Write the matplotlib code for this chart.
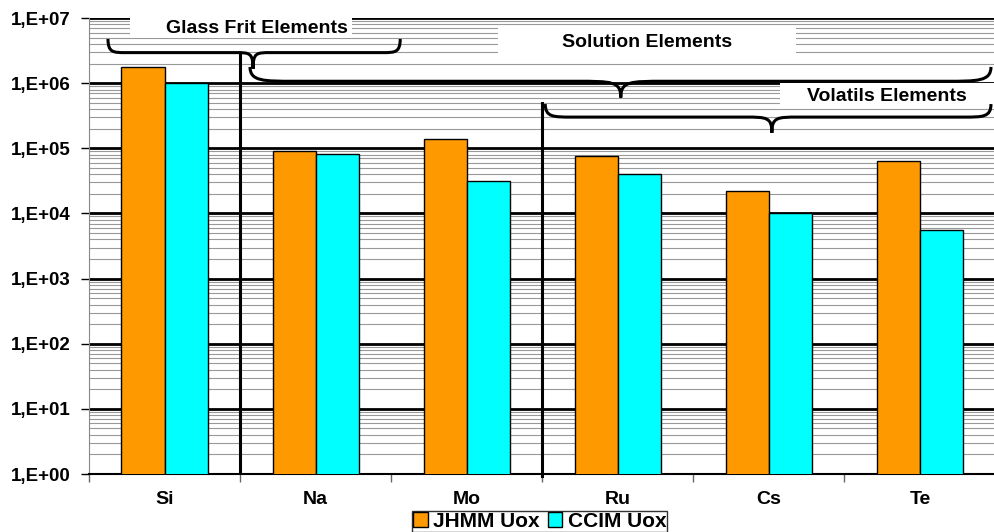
import numpy as np
import matplotlib.pyplot as plt
from matplotlib.path import Path
from matplotlib.patches import PathPatch, Rectangle
from matplotlib.ticker import FixedLocator, LogLocator, NullFormatter, FuncFormatter

plt.rcParams['font.family'] = 'Liberation Sans'
plt.rcParams['font.weight'] = 'bold'

elements = ['Si', 'Na', 'Mo', 'Ru', 'Cs', 'Te']
jhmm = [1.8e6, 9.0e4, 1.4e5, 7.5e4, 2.2e4, 6.3e4]
ccim = [1.0e6, 8.1e4, 3.1e4, 4.0e4, 1.0e4, 5.6e3]
series_names = ['JHMM Uox', 'CCIM Uox']
series_colors = ['#FF9900', '#00FFFF']


def brace(ax, x0, x1, xtip, y_end, y_mid, y_tip):
    # curly brace pointing down, y given as log10 values
    c = lambda v: 10 ** v
    dx = (x1 - x0) * 0.06
    verts = [
        (x0, c(y_end)),
        (x0, c(y_mid)), (x0 + dx * 0.3, c(y_mid)), (x0 + dx, c(y_mid)),
        (xtip - dx, c(y_mid)),
        (xtip - dx * 0.2, c(y_mid)), (xtip, c(y_mid)), (xtip, c(y_tip)),
        (xtip, c(y_mid)), (xtip + dx * 0.2, c(y_mid)), (xtip + dx, c(y_mid)),
        (x1 - dx, c(y_mid)),
        (x1 - dx * 0.3, c(y_mid)), (x1, c(y_mid)), (x1, c(y_end)),
    ]
    codes = [Path.MOVETO,
             Path.CURVE4, Path.CURVE4, Path.CURVE4,
             Path.LINETO,
             Path.CURVE4, Path.CURVE4, Path.CURVE4,
             Path.CURVE4, Path.CURVE4, Path.CURVE4,
             Path.LINETO,
             Path.CURVE4, Path.CURVE4, Path.CURVE4]
    ax.add_patch(PathPatch(Path(verts, codes), fill=False, lw=2.2,
                           edgecolor='black', zorder=6, clip_on=False))


def label_box(ax, x0, x1, ly0, ly1, text, xt, lyt):
    ax.add_patch(Rectangle((x0, 10 ** ly0), x1 - x0, 10 ** ly1 - 10 ** ly0,
                           facecolor='white', edgecolor='none', zorder=4, clip_on=False))
    ax.text(xt, 10 ** lyt, text, ha='center', va='center', fontsize=14,
            fontweight='bold', zorder=7)


fig = plt.figure(figsize=(9.94, 5.32), dpi=100)
ax = fig.add_axes([0.0895, 0.109, 0.912, 0.857])

x = np.arange(len(elements))
w = 0.285
ax.bar(x - w / 2, jhmm, w, color=series_colors[0], edgecolor='black', lw=1,
       label=series_names[0], zorder=3)
ax.bar(x + w / 2, ccim, w, color=series_colors[1], edgecolor='black', lw=1,
       label=series_names[1], zorder=3)

ax.set_yscale('log')
ax.set_ylim(1, 1e7)
ax.set_xlim(-0.5, 5.5)

ax.yaxis.set_major_locator(FixedLocator([10.0 ** k for k in range(8)]))
ax.yaxis.set_minor_locator(LogLocator(base=10, subs=np.arange(2, 10), numticks=20))
ax.yaxis.set_minor_formatter(NullFormatter())
ax.yaxis.set_major_formatter(FuncFormatter(lambda v, p: '1,E+%02d' % round(np.log10(v))))
ax.grid(which='major', axis='y', color='black', lw=2, zorder=1)
ax.grid(which='minor', axis='y', color='#999999', lw=0.8, zorder=1)
ax.tick_params(axis='y', which='major', length=6, width=1, labelsize=13.5, pad=7)
ax.tick_params(axis='y', which='minor', length=0)

ax.set_xticks(x)
ax.set_xticklabels(elements, fontsize=14, fontweight='bold')
ax.set_xticks(np.arange(-0.5, 6, 1), minor=True)
ax.tick_params(axis='x', which='major', length=0, pad=12)
ax.tick_params(axis='x', which='minor', length=6, width=1, color='#666666')

for s in ['top', 'right']:
    ax.spines[s].set_visible(False)
ax.spines['left'].set_color('#888888')
ax.spines['bottom'].set_color('black')
ax.spines['bottom'].set_linewidth(1.5)

# separators between groups
ax.plot([0.5, 0.5], [1, 10 ** 6.47], color='black', lw=2.2, zorder=5)
ax.plot([2.5, 2.5], [0.94, 10 ** 5.69], color='black', lw=2.2, zorder=5, clip_on=False)

# white label boxes and braces
label_box(ax, -0.228, 1.24, 6.69, 7.08, 'Glass Frit Elements', 0.61, 6.846)
label_box(ax, 2.21, 4.18, 6.35, 6.86, 'Solution Elements', 3.195, 6.63)
label_box(ax, 4.075, 5.5, 5.66, 6.0, 'Volatils Elements', 4.78, 5.80)

brace(ax, -0.374, 1.56, 0.586, 6.68, 6.47, 6.22)
brace(ax, 0.566, 5.47, 3.02, 6.25, 6.03, 5.78)
brace(ax, 2.52, 5.47, 4.02, 5.68, 5.48, 5.24)

leg = fig.legend(loc='lower center', bbox_to_anchor=(0.543, 0.0), ncol=2,
                 fontsize=15, frameon=True, fancybox=False, edgecolor='black',
                 handlelength=0.7, handleheight=0.7, handletextpad=0.25,
                 columnspacing=0.4, borderpad=0.05, borderaxespad=0.0)
leg.get_frame().set_linewidth(1)

fig.savefig('out.png', dpi=100)
